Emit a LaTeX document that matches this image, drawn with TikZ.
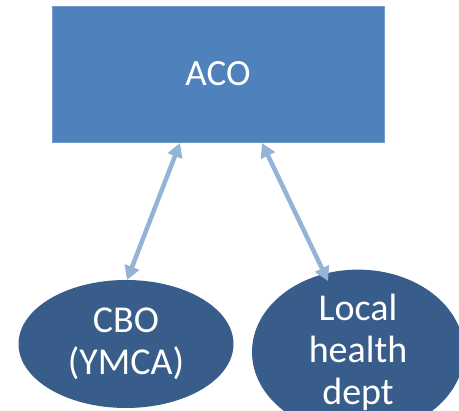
\documentclass[tikz,border=0pt]{standalone}
\usepackage{fontspec}
\setmainfont{Carlito}
\usetikzlibrary{arrows.meta,shapes.geometric}
\definecolor{boxblue}{HTML}{4F81BD}
\definecolor{ovalblue}{HTML}{385D8A}
\definecolor{arrowblue}{HTML}{95B3D7}
\tikzset{
  acobox/.style={fill=boxblue, draw=boxblue!80!white, line width=0.6pt, minimum width=332pt, minimum height=136pt, inner sep=0pt, text=white, font=\fontsize{37}{42}\selectfont},
  oval/.style={ellipse, fill=ovalblue, draw=none, minimum width=215pt, minimum height=128pt, inner sep=0pt, text=white, align=center, font=\fontsize{38}{42}\selectfont},
  link/.style={draw=arrowblue, line width=4.5pt, {Triangle[length=14pt,width=15pt]}-{Triangle[length=14pt,width=15pt]}}
}
\begin{document}
\begin{tikzpicture}[x=1pt,y=-1pt]
\useasboundingbox (0,0) rectangle (459,411);
\node[acobox] (aco) at (218,74) {ACO};
\node[oval] (cbo) at (126,344) {CBO\\(YMCA)};
\node[oval, minimum width=212pt, minimum height=130pt] (lhd) at (358,352) {Local\\health\\dept};
\coordinate (a1) at (180,143);
\coordinate (b1) at (127,280);
\coordinate (a2) at (262,143);
\coordinate (b2) at (328,281);
\draw[link] (b1) -- (a1);
\draw[link] (b2) -- (a2);
\end{tikzpicture}
\end{document}
